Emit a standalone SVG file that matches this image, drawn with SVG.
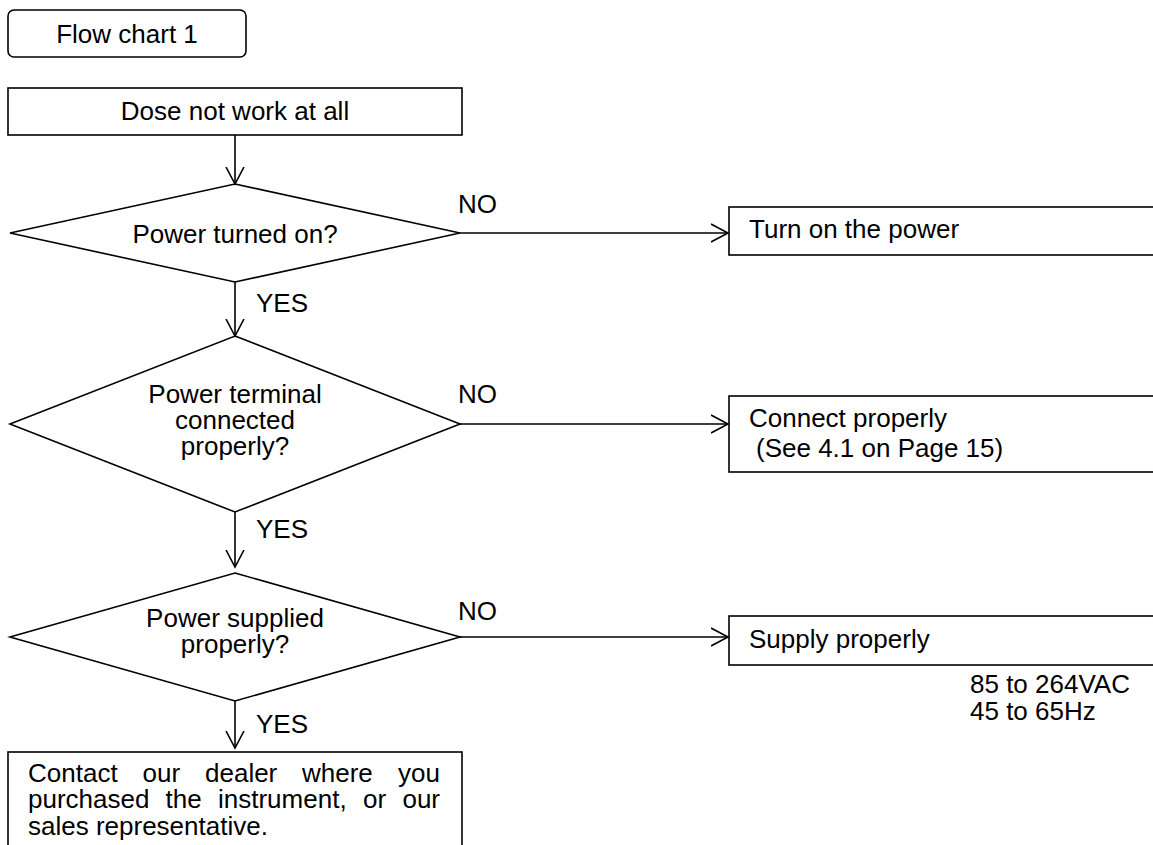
<svg xmlns="http://www.w3.org/2000/svg" width="1153" height="845" viewBox="0 0 1153 845">
<style>
.s{fill:#fff;stroke:#000;stroke-width:1.6}
.t{font-family:"Liberation Sans",Arial,sans-serif;font-size:26px;fill:#000}
.c{text-anchor:middle}
.ln{stroke:#000;stroke-width:1.6;fill:none}
</style>
<defs>
<marker id="ah" markerUnits="userSpaceOnUse" markerWidth="24" markerHeight="24" refX="17" refY="10" orient="auto" viewBox="0 0 24 20">
<path d="M0,1 L17,10 L0,19" fill="none" stroke="#000" stroke-width="1.6"/>
</marker>
</defs>
<rect width="1153" height="845" fill="#fff"/>
<g id="title">
<rect class="s" x="8" y="10" width="238" height="47" rx="6"/>
<text class="t c" x="127" y="43">Flow chart 1</text>
</g>
<g id="start">
<rect class="s" x="8" y="88" width="454" height="47"/>
<text class="t c" x="235" y="120">Dose not work at all</text>
</g>
<g id="d1">
<polygon class="s" points="235,184 460,233 235,282 10,233"/>
<text class="t c" x="235" y="243">Power turned on?</text>
</g>
<g id="r1">
<rect class="s" x="729" y="207" width="440" height="48"/>
<text class="t" x="749" y="238">Turn on the power</text>
</g>
<g id="d2">
<polygon class="s" points="235,336 460,424 235,512 10,424"/>
<text class="t c" x="235" y="403">Power terminal</text>
<text class="t c" x="235" y="429">connected</text>
<text class="t c" x="235" y="455">properly?</text>
</g>
<g id="r2">
<rect class="s" x="729" y="396" width="440" height="76"/>
<text class="t" x="749" y="427">Connect properly</text>
<text class="t" x="756" y="457">(See 4.1 on Page 15)</text>
</g>
<g id="d3">
<polygon class="s" points="235,573 460,637 235,701 10,637"/>
<text class="t c" x="235" y="627">Power supplied</text>
<text class="t c" x="235" y="653">properly?</text>
</g>
<g id="r3">
<rect class="s" x="729" y="616" width="440" height="49"/>
<text class="t" x="749" y="648">Supply properly</text>
<text class="t" x="970" y="693">85 to 264VAC</text>
<text class="t" x="970" y="720">45 to 65Hz</text>
</g>
<g id="end">
<rect class="s" x="8" y="752" width="454" height="110"/>
<text class="t" y="782"><tspan x="28">Contact</tspan><tspan x="142.5">our</tspan><tspan x="205">dealer</tspan><tspan x="302">where</tspan><tspan x="440" text-anchor="end">you</tspan></text>
<text class="t" y="808"><tspan x="28">purchased</tspan><tspan x="165.5">the</tspan><tspan x="218">instrument,</tspan><tspan x="363">or</tspan><tspan x="440" text-anchor="end">our</tspan></text>
<text class="t" x="28" y="835">sales representative.</text>
</g>
<g id="connectors">
<line class="ln" x1="235" y1="135" x2="235" y2="184" marker-end="url(#ah)"/>
<line class="ln" x1="460" y1="233" x2="728" y2="233" marker-end="url(#ah)"/>
<line class="ln" x1="235" y1="282" x2="235" y2="336" marker-end="url(#ah)"/>
<line class="ln" x1="460" y1="424" x2="728" y2="424" marker-end="url(#ah)"/>
<line class="ln" x1="235" y1="512" x2="235" y2="567" marker-end="url(#ah)"/>
<line class="ln" x1="460" y1="637" x2="728" y2="637" marker-end="url(#ah)"/>
<line class="ln" x1="235" y1="701" x2="235" y2="748" marker-end="url(#ah)"/>
<text class="t" x="458" y="213">NO</text>
<text class="t" x="458" y="403">NO</text>
<text class="t" x="458" y="620">NO</text>
<text class="t" x="256" y="312">YES</text>
<text class="t" x="256" y="538">YES</text>
<text class="t" x="256" y="733">YES</text>
</g>
</svg>
